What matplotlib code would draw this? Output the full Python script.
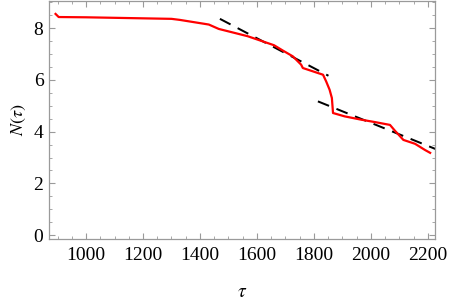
import matplotlib
matplotlib.use("Agg")
import matplotlib.pyplot as plt
from matplotlib.ticker import MultipleLocator

plt.rcParams['font.family'] = ['Liberation Serif', 'DejaVu Serif']
plt.rcParams['mathtext.fontset'] = 'stix'

# Red curve N(tau)
tau = [893, 904, 1000, 1100, 1200, 1300, 1329, 1431, 1466, 1567, 1660, 1690,
       1726, 1755, 1761, 1832, 1843, 1855, 1863, 1867, 1908, 1967, 2014, 2067,
       2084, 2114, 2155, 2190, 2208]
N = [8.55, 8.43, 8.42, 8.40, 8.38, 8.36, 8.32, 8.14, 7.97, 7.69, 7.34, 7.14,
     6.91, 6.59, 6.46, 6.20, 5.94, 5.62, 5.30, 4.72, 4.59, 4.46, 4.37, 4.26,
     4.04, 3.68, 3.53, 3.29, 3.18]

# Dashed fit lines (endpoints)
fit1_tau = [1470, 1851]
fit1_N = [8.36, 6.16]
fit2_tau = [1814, 2240]
fit2_N = [5.17, 3.27]

xticks = [1000, 1200, 1400, 1600, 1800, 2000, 2200]
yticks = [0, 2, 4, 6, 8]

fig = plt.figure(figsize=(4.49, 3.02), dpi=100)
ax = fig.add_axes([49/449, 1 - 239/302, (435-49)/449, 238/302])

ax.plot(tau, N, color='#ff0000', lw=1.6, zorder=3, solid_joinstyle='round')
ax.plot(fit1_tau, fit1_N, color='black', lw=1.44, dashes=(6, 4), zorder=2)
ax.plot(fit2_tau, fit2_N, color='black', lw=1.44, dashes=(6, 4), zorder=2)

ax.set_xlim(870, 2225)
ax.set_ylim(-0.15, 9.05)
ax.set_xticks(xticks)
ax.set_yticks(yticks)
ax.xaxis.set_minor_locator(MultipleLocator(50))
ax.yaxis.set_minor_locator(MultipleLocator(0.5))

gray = '#9a9a9a'
for s in ax.spines.values():
    s.set_color(gray)
    s.set_linewidth(0.9)
ax.tick_params(which='both', direction='in', top=True, right=True, colors=gray,
               labelcolor='black', labelsize=14)
ax.tick_params(which='major', length=4.5, width=0.8)
ax.tick_params(which='minor', length=2.5, width=0.6)
ax.tick_params(axis='x', pad=6)
ax.tick_params(axis='y', pad=4)

ax.set_xlabel(r'$\tau$', fontsize=14, labelpad=14)
ax.set_ylabel(r'$N(\tau)$', fontsize=13, labelpad=4)

fig.savefig('out.png', dpi=100)
